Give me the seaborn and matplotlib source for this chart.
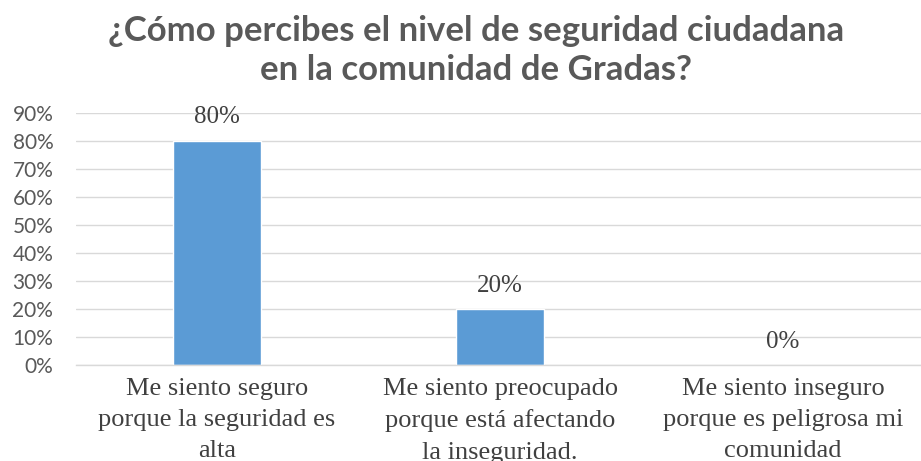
import numpy as np
import pandas as pd
import matplotlib.pyplot as plt
import seaborn as sns
from matplotlib.ticker import PercentFormatter

# Data
categories = [
    'Me siento seguro\nporque la seguridad es\nalta',
    'Me siento preocupado\nporque está afectando\nla inseguridad.',
    'Me siento inseguro\nporque es peligrosa mi\ncomunidad',
]
values = [0.80, 0.20, 0.00]
value_labels = ['80%', '20%', '0%']
title_text = '¿Cómo percibes el nivel de seguridad ciudadana\nen la comunidad de Gradas?'

df = pd.DataFrame({'respuesta': categories, 'porcentaje': values})

sns.set_theme(style='white')
plt.rcParams['font.family'] = ['Liberation Serif', 'DejaVu Serif']

fig = plt.figure(figsize=(9.21, 4.61), dpi=100)
ax = fig.add_axes([0.082, 0.208, 0.922, 0.547])

sns.barplot(data=df, x='respuesta', y='porcentaje', color='#5B9BD5',
            width=0.31, saturation=1, ax=ax)

ax.set_ylim(0, 0.9)
ax.set_xlim(-0.5, 2.5)
ax.set_yticks(np.arange(0, 0.91, 0.1))
ax.yaxis.set_major_formatter(PercentFormatter(1.0, decimals=0))
ax.grid(axis='y', color='#d9d9d9', linewidth=1)
ax.set_axisbelow(True)
for side in ['top', 'right', 'left']:
    ax.spines[side].set_visible(False)
ax.spines['bottom'].set_color('#d9d9d9')
ax.spines['bottom'].set_linewidth(1)

ax.set_xlabel('')
ax.set_ylabel('')
ax.tick_params(axis='x', length=0, pad=9, labelsize=19, labelcolor='#404040')
ax.tick_params(axis='y', length=0, pad=16, labelsize=15, labelcolor='#595959')
for lbl in ax.get_yticklabels():
    lbl.set_family(['Lato', 'DejaVu Sans'])
for lbl in ax.get_xticklabels():
    lbl.set_linespacing(1.55)

ax.bar_label(ax.containers[0], labels=value_labels, padding=9,
             fontsize=18, color='#404040')

fig.text(0.517, 0.89, title_text, ha='center', va='center',
         fontsize=25, fontweight='bold', color='#595959',
         family=['Lato', 'DejaVu Sans'], linespacing=1.25)

fig.savefig('out.png', dpi=100, facecolor='white')
plt.close()
